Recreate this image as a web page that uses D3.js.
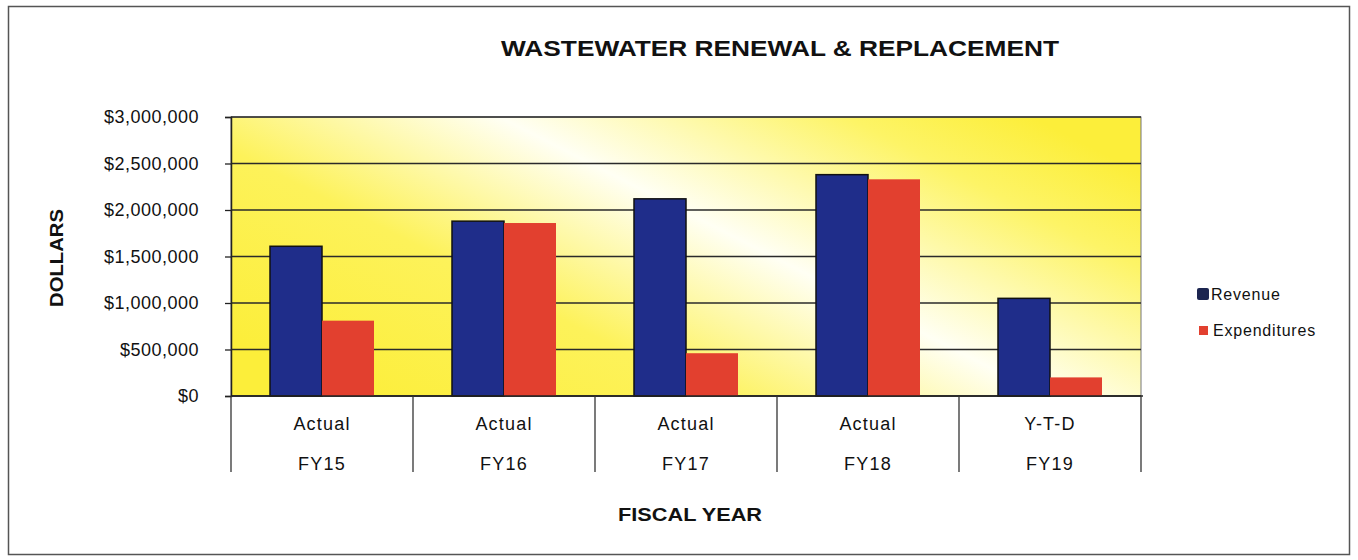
<!DOCTYPE html>
<html>
<head>
<style>
body { margin: 0; background: #fff; }
text { font-family: "Liberation Sans", Arial, sans-serif; fill: #111; }
</style>
</head>
<body>
<script src="https://d3js.org/d3.v7.min.js"></script>
<script>
// chart data
var years = ["FY15", "FY16", "FY17", "FY18", "FY19"]
var yearStatus = ["Actual", "Actual", "Actual", "Actual", "Y-T-D"]
var series = ["Revenue", "Expenditures"]
var revenue = [1610000, 1880000, 2120000, 2380000, 1050000]
var expenditures = [810000, 1860000, 460000, 2330000, 200000]
var yTicks = [0, 500000, 1000000, 1500000, 2000000, 2500000, 3000000]

var colors = { "Revenue": "#1f2d8a", "Expenditures": "#e2402f" }

var W = 1358, H = 560
var svg = d3.select("body").append("svg").attr("width", W).attr("height", H)

// plot area
var pLeft = 231, pRight = 1141, pTop = 117, pBottom = 396

// yellow fill with a white diagonal streak
var defs = svg.append("defs")
var grad = defs.append("linearGradient").attr("id", "bg")
	.attr("x1", 0).attr("y1", 0.8).attr("x2", 1).attr("y2", 0.2)
grad.append("stop").attr("offset", "0").attr("stop-color", "#fcee3a")
grad.append("stop").attr("offset", "0.3").attr("stop-color", "#fdf25a")
grad.append("stop").attr("offset", "0.57").attr("stop-color", "#fffff4")
grad.append("stop").attr("offset", "0.85").attr("stop-color", "#fdf466")
grad.append("stop").attr("offset", "1").attr("stop-color", "#fcee3a")

// outer frame
svg.append("rect").attr("x", 8.5).attr("y", 6.5).attr("width", 1341).attr("height", 548)
	.attr("fill", "none").attr("stroke", "#555").attr("stroke-width", 1.5)

var x0 = d3.scaleBand().domain(years).range([pLeft, pRight]).padding(0)
var x1 = d3.scaleBand().domain(series).range([0, x0.bandwidth()]).paddingInner(0).paddingOuter(0.75)
var y = d3.scaleLinear().domain([0, 3000000]).range([pBottom, pTop])

svg.append("rect").attr("x", pLeft).attr("y", pTop).attr("width", pRight - pLeft).attr("height", pBottom - pTop)
	.attr("fill", "url(#bg)").attr("stroke", "#777").attr("stroke-width", 1)

// gridlines
svg.append("g").selectAll("line").data(yTicks).enter().append("line")
	.attr("x1", pLeft).attr("x2", pRight)
	.attr("y1", function(d) { return y(d) }).attr("y2", function(d) { return y(d) })
	.attr("stroke", "#2a2a2a").attr("stroke-width", 1.3)

// y axis
var yAxis = svg.append("g").attr("transform", "translate(" + pLeft + ",0)")
	.call(d3.axisLeft(y).tickValues(yTicks).tickSize(6).tickPadding(26)
		.tickFormat(function(d) { return "$" + d3.format(",")(d) }))
yAxis.select(".domain").attr("stroke", "#222").attr("stroke-width", 1.5)
yAxis.selectAll(".tick line").attr("stroke", "#222").attr("stroke-width", 1.3)
yAxis.selectAll("text").style("font-size", "18px").attr("fill", "#111")
	.style("font-family", "'Liberation Sans', Arial, sans-serif").style("letter-spacing", "0.5px")

// bars
var rows = years.map(function(d, i) { return { year: d, Revenue: revenue[i], Expenditures: expenditures[i] } })
var groups = svg.append("g").selectAll("g").data(rows).enter().append("g")
	.attr("transform", function(d) { return "translate(" + x0(d.year) + ",0)" })
groups.selectAll("rect").data(function(d) { return series.map(function(s) { return { key: s, value: d[s] } }) })
	.enter().append("rect")
	.attr("x", function(d) { return x1(d.key) })
	.attr("width", x1.bandwidth())
	.attr("y", function(d) { return y(d.value) })
	.attr("height", function(d) { return pBottom - y(d.value) })
	.attr("fill", function(d) { return colors[d.key] })
	.attr("stroke", function(d) { return d.key == "Revenue" ? "#111" : "none" })
	.attr("stroke-width", 1.5)

// x axis: category separators and two-line labels
svg.append("line").attr("x1", pLeft).attr("x2", pRight + 2).attr("y1", pBottom).attr("y2", pBottom)
	.attr("stroke", "#222").attr("stroke-width", 1.5)
var seps = years.map(function(d) { return x0(d) }).concat([pRight])
svg.append("g").selectAll("line").data(seps).enter().append("line")
	.attr("x1", function(d) { return d }).attr("x2", function(d) { return d })
	.attr("y1", pBottom).attr("y2", 472)
	.attr("stroke", "#333").attr("stroke-width", 1.3)

var xl = svg.append("g").selectAll("g").data(years).enter().append("g")
xl.append("text").attr("x", function(d) { return x0(d) + x0.bandwidth() / 2 }).attr("y", 430)
	.attr("text-anchor", "middle").style("font-size", "18px").style("letter-spacing", "1.2px")
	.text(function(d, i) { return yearStatus[i] })
xl.append("text").attr("x", function(d) { return x0(d) + x0.bandwidth() / 2 }).attr("y", 470)
	.attr("text-anchor", "middle").style("font-size", "18px").style("letter-spacing", "1.2px")
	.text(function(d) { return d })

// titles
svg.append("text").attr("x", 780).attr("y", 56).attr("text-anchor", "middle")
	.style("font-size", "22px").style("font-weight", "bold")
	.attr("textLength", 558).attr("lengthAdjust", "spacingAndGlyphs")
	.text("WASTEWATER RENEWAL & REPLACEMENT")
svg.append("text").attr("x", 690).attr("y", 521).attr("text-anchor", "middle")
	.style("font-size", "18px").style("font-weight", "bold")
	.attr("textLength", 144).attr("lengthAdjust", "spacingAndGlyphs")
	.text("FISCAL YEAR")
svg.append("text").attr("transform", "translate(63,258) rotate(-90)").attr("text-anchor", "middle")
	.style("font-size", "18px").style("font-weight", "bold")
	.attr("textLength", 98).attr("lengthAdjust", "spacingAndGlyphs")
	.text("DOLLARS")

// legend
var legY = [294, 330]
var leg = svg.append("g").selectAll("g").data(series).enter().append("g")
	.attr("transform", function(d, i) { return "translate(1197," + legY[i] + ")" })
leg.append("rect")
	.attr("x", function(d, i) { return i == 0 ? 0 : 2 }).attr("y", function(d, i) { return i == 0 ? -6 : -4 })
	.attr("width", function(d, i) { return i == 0 ? 12 : 9 }).attr("height", function(d, i) { return i == 0 ? 12 : 9 })
	.attr("rx", function(d, i) { return i == 0 ? 2 : 0 })
	.attr("fill", function(d) { return d == "Revenue" ? "#1c2550" : colors[d] })
leg.append("text").attr("x", function(d, i) { return i == 0 ? 14 : 16 }).attr("y", 6)
	.style("font-size", "16px").style("letter-spacing", "0.8px")
	.text(function(d) { return d })
</script>
</body>
</html>
